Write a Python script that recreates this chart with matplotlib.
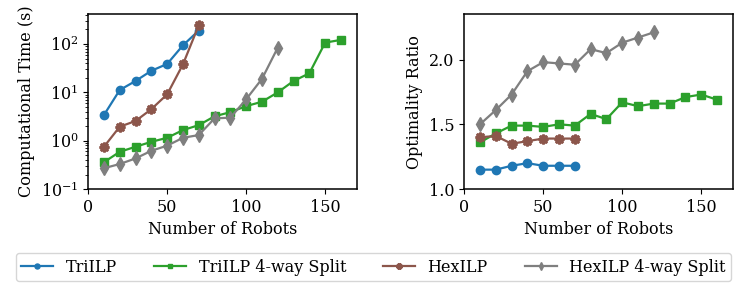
import matplotlib
matplotlib.use("Agg")
import matplotlib.pyplot as plt

plt.rcParams["font.family"] = "DejaVu Serif"
plt.rcParams["font.size"] = 11.5

robots = [10, 20, 30, 40, 50, 60, 70, 80, 90, 100, 110, 120, 130, 140, 150, 160]

# computational time (s)
time_tri = [3.4, 11.2, 17.2, 28, 38.7, 94, 190]
time_tri_split = [0.36, 0.59, 0.75, 0.95, 1.15, 1.66, 2.1, 3.2, 3.9, 5.2, 6.4, 10, 17.2, 24.8, 107, 122]
time_hex = [0.75, 1.95, 2.56, 4.5, 9.1, 38, 245]
time_hex_split = [0.27, 0.33, 0.43, 0.62, 0.79, 1.15, 1.31, 2.9, 3.0, 7.2, 19, 84]

# optimality ratio
ratio_tri = [1.15, 1.15, 1.18, 1.20, 1.18, 1.18, 1.18]
ratio_tri_split = [1.36, 1.43, 1.49, 1.49, 1.48, 1.50, 1.49, 1.58, 1.54, 1.67, 1.64, 1.66, 1.66, 1.71, 1.73, 1.69]
ratio_hex = [1.40, 1.41, 1.35, 1.37, 1.39, 1.39, 1.39]
ratio_hex_split = [1.50, 1.61, 1.73, 1.91, 1.98, 1.97, 1.96, 2.08, 2.05, 2.13, 2.17, 2.21]

labels = ["TriILP", "TriILP 4-way Split", "HexILP", "HexILP 4-way Split"]
styles = [
    dict(color="#1f77b4", marker="o", markersize=6),
    dict(color="#2ca02c", marker="s", markersize=6),
    dict(color="#8c564b", marker=(8, 1, 0), markersize=7, markeredgewidth=1.8),
    dict(color="#7f7f7f", marker="d", markersize=7),
]

fig, (ax1, ax2) = plt.subplots(1, 2, figsize=(7.47, 2.9), dpi=100)
fig.subplots_adjust(left=0.118, right=0.981, top=0.951, bottom=0.348, wspace=0.40)

time_series = [time_tri, time_tri_split, time_hex, time_hex_split]
ratio_series = [ratio_tri, ratio_tri_split, ratio_hex, ratio_hex_split]

for ys, st, lab in zip(time_series, styles, labels):
    ax1.plot(robots[:len(ys)], ys, label=lab, linewidth=1.6, **st)
for ys, st, lab in zip(ratio_series, styles, labels):
    ax2.plot(robots[:len(ys)], ys, label=lab, linewidth=1.6, **st)

ax1.set_yscale("log")
ax1.set_ylim(0.1, 414)
ax1.set_xlim(0, 170)
ax1.set_xlabel("Number of Robots")
ax1.set_ylabel("Computational Time (s)")

ax2.set_ylim(1.0, 2.35)
ax2.set_xlim(0, 170)
ax2.set_yticks([1.0, 1.5, 2.0])
ax2.set_xlabel("Number of Robots")
ax2.set_ylabel("Optimality Ratio")

for ax in (ax1, ax2):
    ax.set_xticks([0, 50, 100, 150])
    for s in ax.spines.values():
        s.set_linewidth(1.1)

handles, labs = ax1.get_legend_handles_labels()
fig.legend(handles, labs, loc="center", bbox_to_anchor=(0.5, 0.078), ncol=4,
           markerscale=0.6, columnspacing=2.3, handlelength=2.0,
           borderpad=0.35, edgecolor="#cccccc")

fig.savefig("out.png", dpi=100)
